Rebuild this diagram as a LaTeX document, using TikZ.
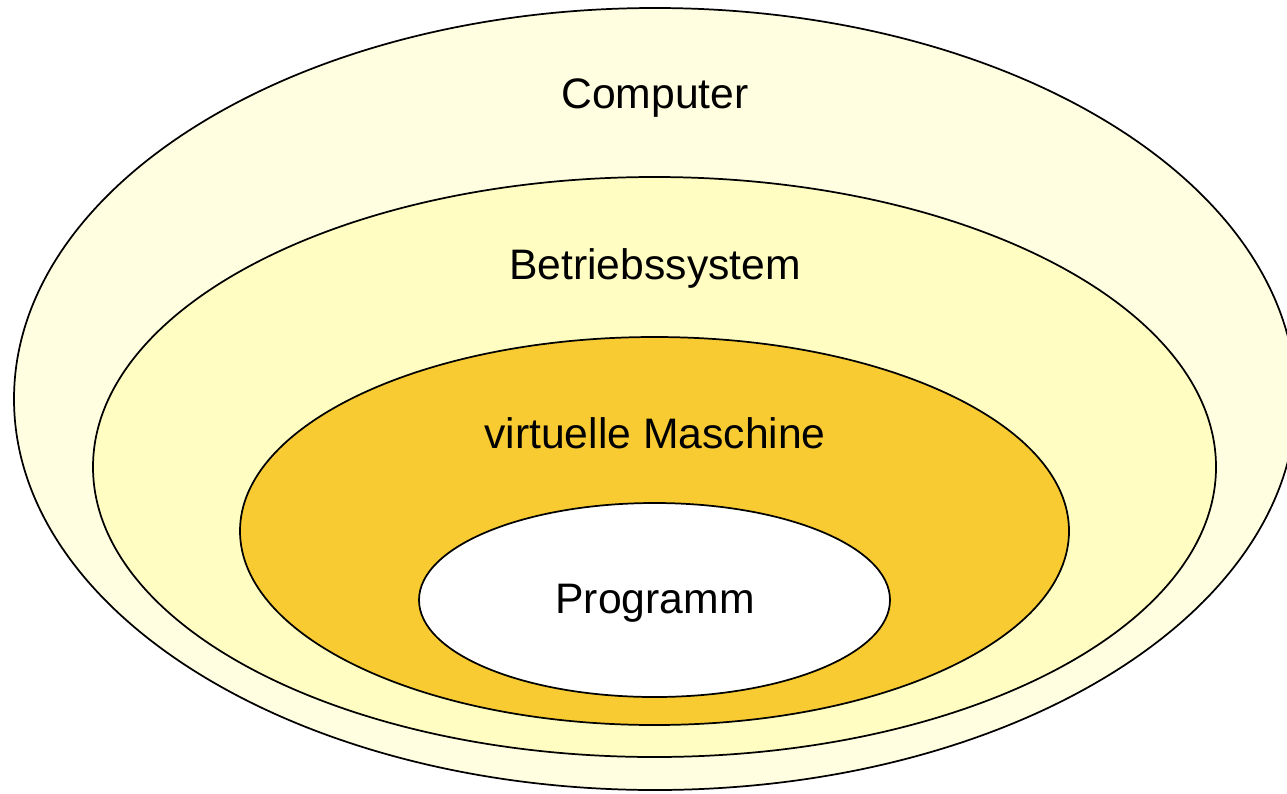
\documentclass[tikz,border=0pt]{standalone}
\usepackage{fontspec}
\setmainfont{Liberation Sans}
\definecolor{outerc}{HTML}{FFFEE0}
\definecolor{secondc}{HTML}{FFFDC2}
\definecolor{thirdc}{HTML}{F9CB32}
\begin{document}
\begin{tikzpicture}[x=0.75pt,y=-0.75pt,
  ring/.style={draw=black,line width=1.3pt},
  lbl/.style={anchor=base,inner sep=0pt,font=\fontsize{32}{38}\selectfont}]
\useasboundingbox (0,0) rectangle (1287,793);
\clip (0,0) rectangle (1287,793);
\fill[white] (0,0) rectangle (1287,793);
\draw[ring,fill=outerc] (655,399) ellipse [x radius=641, y radius=391];
\draw[ring,fill=secondc] (654.5,467) ellipse [x radius=561.5, y radius=290];
\draw[ring,fill=thirdc] (654.5,531) ellipse [x radius=414.5, y radius=194];
\draw[ring,fill=white] (654.5,600) ellipse [x radius=235.5, y radius=97];
\node[lbl] (computer) at (655,108) {Computer};
\node[lbl] (bs) at (655,279) {Betriebssystem};
\node[lbl] (vm) at (655,448) {virtuelle Maschine};
\node[lbl] (prog) at (655,613) {Programm};
\end{tikzpicture}
\end{document}
